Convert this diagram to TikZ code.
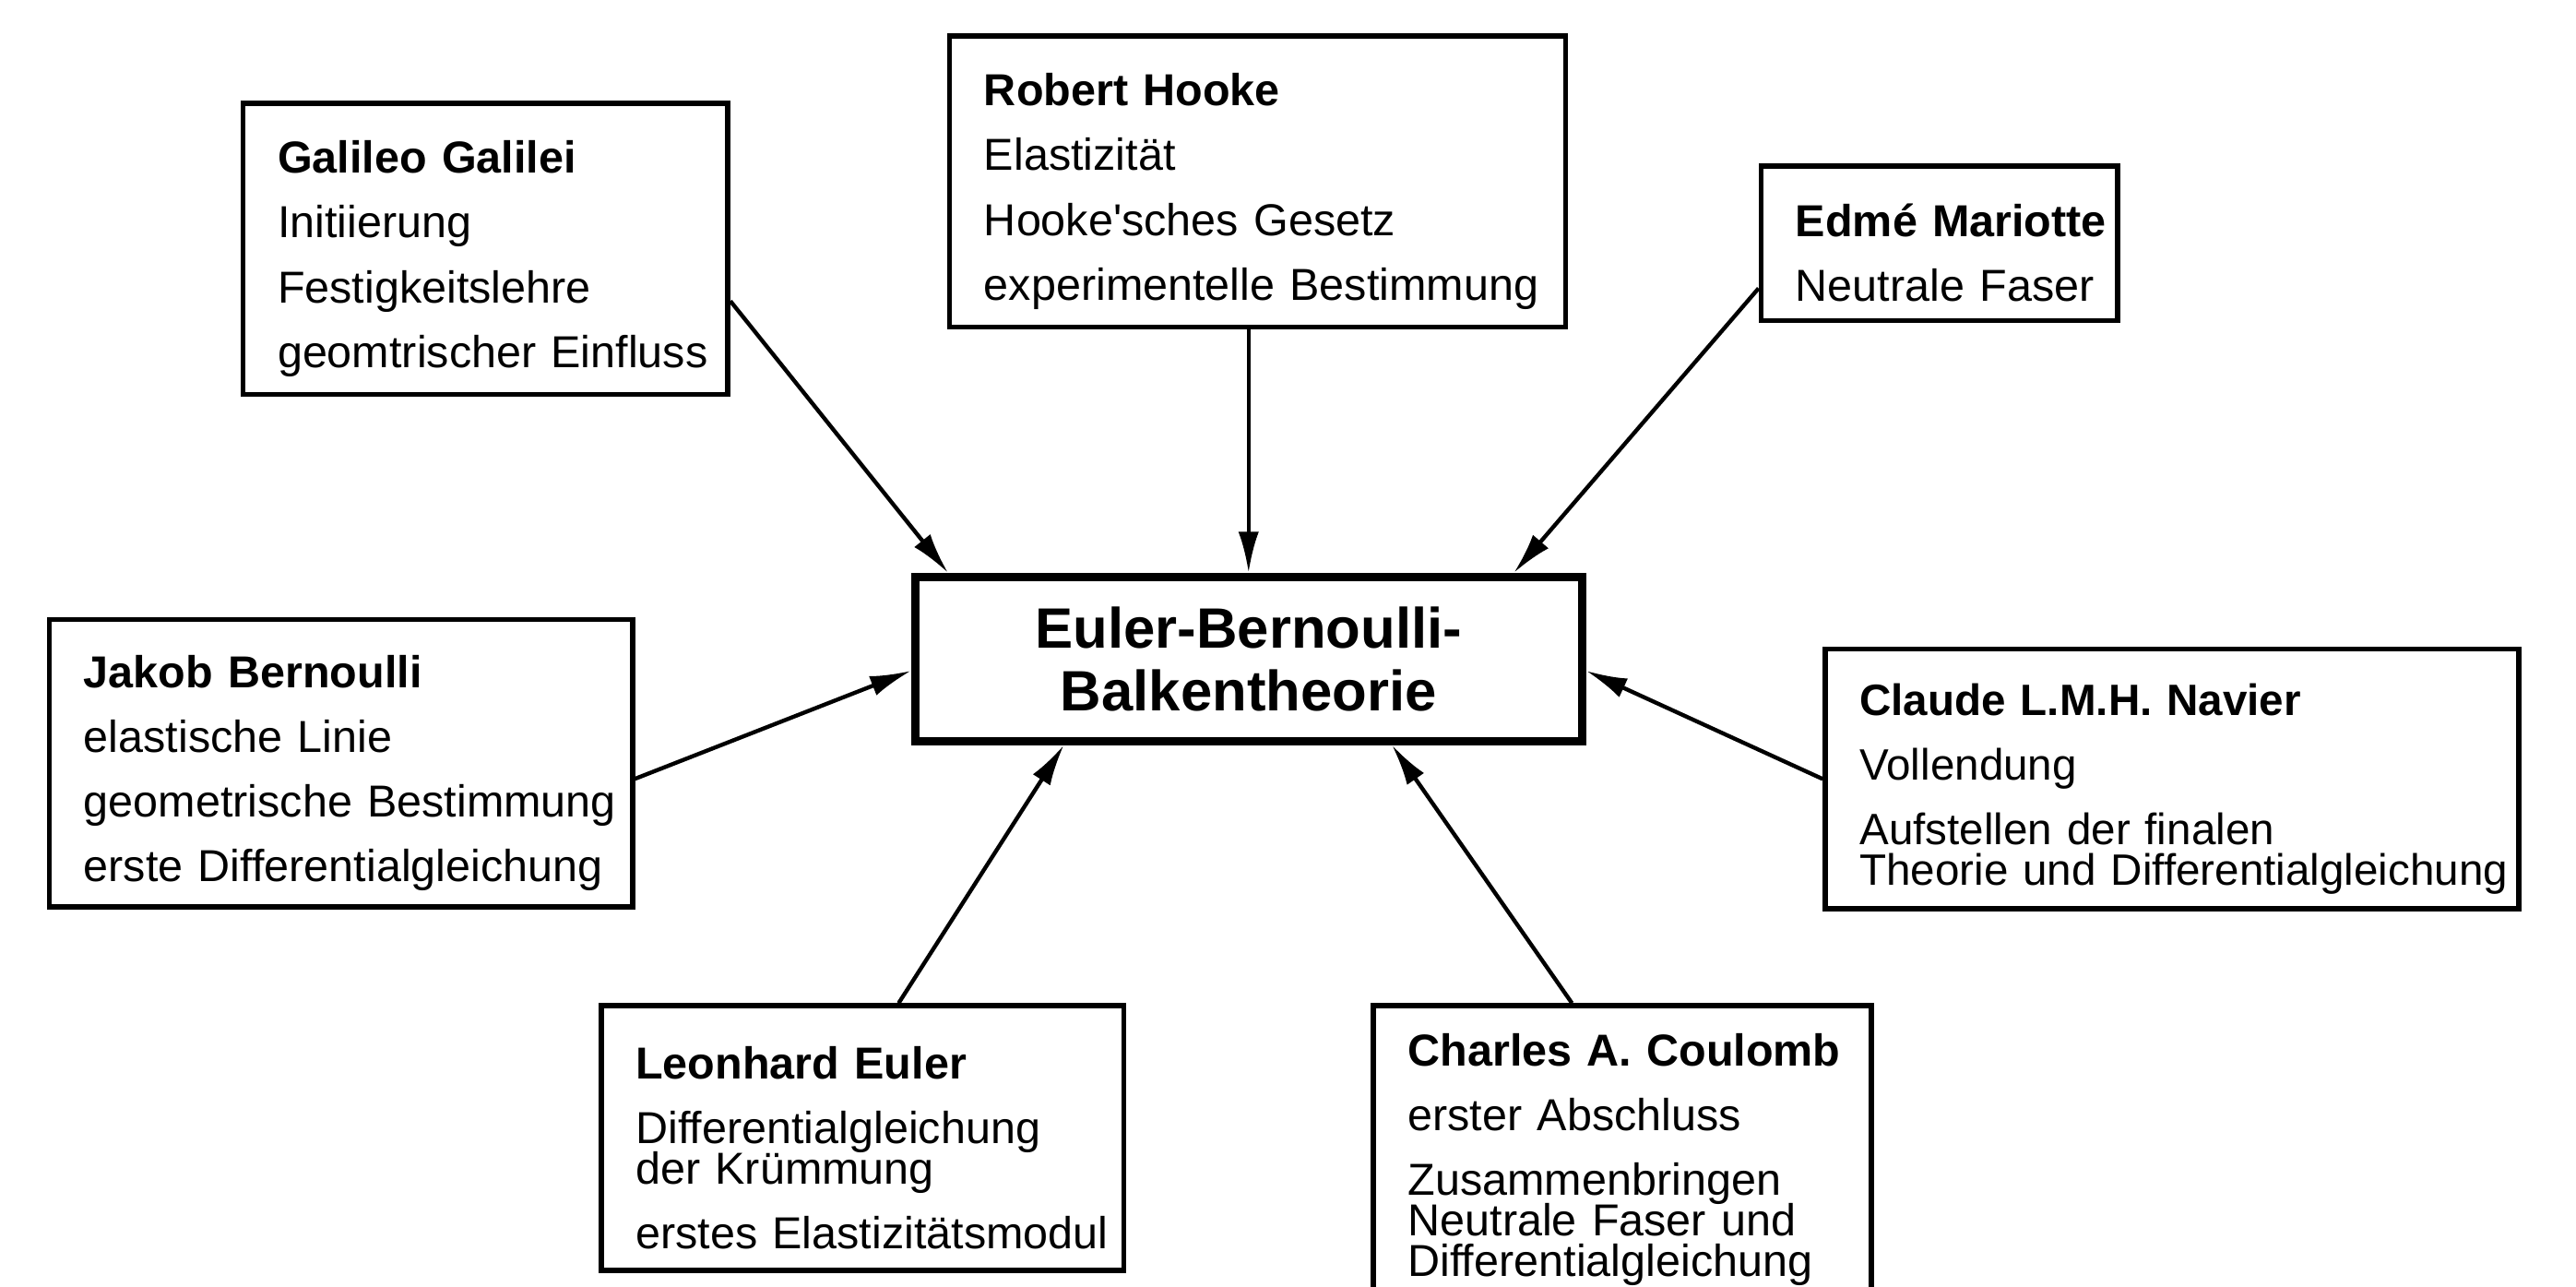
\documentclass[tikz,border=0pt]{standalone}
\usepackage{fontspec}
\setmainfont{Liberation Sans}
\usetikzlibrary{arrows.meta}

\tikzset{
  infobox/.style={draw, line width=1.8pt, text width=#1, text height=18pt, inner xsep=0pt, inner ysep=0.15cm,
    align=left, font=\fontsize{15.5}{14}\selectfont,
    execute at begin node={\leftskip=0.42cm\rightskip=-4cm plus 1fil\relax\lineskiplimit=-5pt\relax}},
  theorybox/.style={draw, line width=2.8pt, minimum width=8.12cm, minimum height=2cm,
    align=center, font=\fontsize{19.7}{21.6}\selectfont\bfseries},
  influence/.style={-{Latex[length=0.5cm,width=0.25cm]}, line width=1.4pt}
}

\begin{document}
\begin{tikzpicture}
 \useasboundingbox (0,0) rectangle (31.36,15.66);
 \node[theorybox] (theory) at (15.2,7.64) {Euler-Bernoulli-\\Balkentheorie};
 % top row
 \node[infobox=5.9cm, minimum height=3.54cm] (galilei) at (5.91,12.63)
  {\textbf{Galileo Galilei}\\[8.4pt]Initiierung\\[8.4pt]Festigkeitslehre\\[8.4pt]geomtrischer Einfluss};
 \node[infobox=7.5cm, minimum height=3.54cm] (hooke) at (15.31,13.45)
  {\textbf{Robert Hooke}\\[8.4pt]Elastizität\\[8.4pt]Hooke\textquotesingle sches Gesetz\\[8.4pt]experimentelle Bestimmung};
 \node[infobox=4.34cm, minimum height=1.88cm] (mariotte) at (23.61,12.70)
  {\textbf{Edmé Mariotte}\\[8.4pt]Neutrale Faser};
 % middle row
 \node[infobox=7.1cm, minimum height=3.5cm] (bernoulli) at (4.15,6.37)
  {\textbf{Jakob Bernoulli}\\[8.4pt]elastische Linie\\[8.4pt]geometrische Bestimmung\\[8.4pt]erste Differentialgleichung};
 \node[infobox=8.44cm, minimum height=3.16cm, font=\fontsize{15.2}{14}\selectfont] (navier) at (26.44,6.18)
  {\textbf{Claude L.M.H. Navier}\\[8.4pt]Vollendung\\[8.4pt]Aufstellen der finalen\\Theorie und Differentialgleichung};
 % bottom row
 \node[infobox=6.36cm, minimum height=3.22cm] (euler) at (10.5,1.81)
  {\textbf{Leonhard Euler}\\[8.4pt]Differentialgleichung\\der Krümmung\\[8.4pt]erstes Elastizitätsmodul};
 \node[infobox=6.06cm, minimum height=3.5cm, inner ysep=0pt] (coulomb) at (19.75,1.67)
  {\textbf{Charles A. Coulomb}\\[8.4pt]erster Abschluss\\[8.4pt]Zusammenbringen\\Neutrale Faser und\\Differentialgleichung};

 \draw[influence] (galilei.-12) -- (theory.164.45);
 \draw[influence] (hooke.south -| theory.north) -- (theory.north);
 \draw[influence] (mariotte.194.5) -- (theory.18.55);
 \draw[influence] (bernoulli.-3.4) -- (theory.182.5);
 \draw[influence] (navier.west) -- (theory.-2);
 \draw[influence] (euler.75.7) -- (theory.205.9);
 \draw[influence] (coulomb.109.4) -- (theory.-31.1);
\end{tikzpicture}
\end{document}
